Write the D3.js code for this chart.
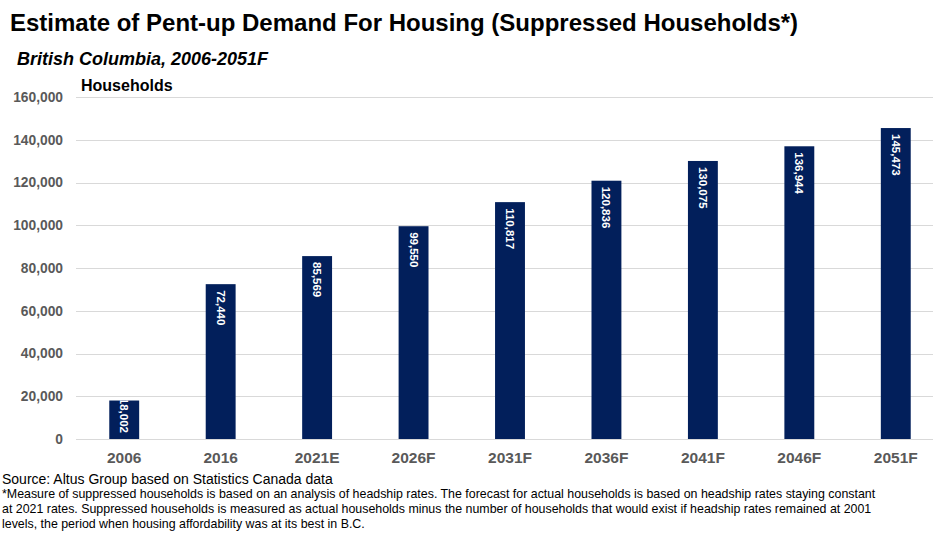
<!DOCTYPE html>
<html>
<head>
<meta charset="utf-8">
<script src="https://cdn.jsdelivr.net/npm/d3@7"></script>
<style>
  html, body { margin: 0; padding: 0; background: #fff; }
  svg { display: block; }
  text { font-family: Arial, "Liberation Sans", sans-serif; }
</style>
</head>
<body>
<svg id="chart" width="933" height="541"></svg>
<script>
// Suppressed households by year (actual + forecast)
const categories = ["2006", "2016", "2021E", "2026F", "2031F", "2036F", "2041F", "2046F", "2051F"];
const households = [18002, 72440, 85569, 99550, 110817, 120836, 130075, 136944, 145473];
const yTicks = [0, 20000, 40000, 60000, 80000, 100000, 120000, 140000, 160000];

const titleText = "Estimate of Pent-up Demand For Housing (Suppressed Households*)";
const subtitleText = "British Columbia, 2006-2051F";
const axisTitle = "Households";
const sourceText = "Source: Altus Group based on Statistics Canada data";
const noteLines = [
  "*Measure of suppressed households is based on an analysis of headship rates. The forecast for actual households is based on headship rates staying constant",
  "at 2021 rates. Suppressed households is measured as actual households minus the number of households that would exist if headship rates remained at 2001",
  "levels, the period when housing affordability was at its best in B.C."
];

const svg = d3.select("#chart");
const W = 933, H = 541;
const plot = { left: 76, right: 944, top: 97, bottom: 439 };
const barColor = "#021F5B";
const fmt = d3.format(",");

const x = d3.scaleBand().domain(categories).range([plot.left, plot.right]).paddingInner(0.69).paddingOuter(0.345);
const y = d3.scaleLinear().domain([0, 160000]).range([plot.bottom, plot.top]);

// Gridlines
svg.append("g").selectAll("line").data(yTicks).join("line")
  .attr("x1", plot.left).attr("x2", W)
  .attr("y1", d => Math.round(y(d)) + 0.5).attr("y2", d => Math.round(y(d)) + 0.5)
  .attr("stroke", "#d9d9d9").attr("stroke-width", 1);

// Y axis labels
const yAxis = d3.axisLeft(y).tickValues(yTicks).tickFormat(fmt).tickSize(0).tickPadding(0);
const gy = svg.append("g").attr("transform", `translate(${63},0)`).call(yAxis);
gy.select(".domain").remove();
gy.selectAll("text")
  .attr("fill", "#595959").style("font-size", "13.8px").style("font-weight", "bold")
  .style("font-family", "Arial, 'Liberation Sans', sans-serif");

// X axis labels
const xAxis = d3.axisBottom(x).tickSize(0).tickPadding(0);
const gx = svg.append("g").attr("transform", `translate(0,${plot.bottom + 13})`).call(xAxis);
gx.select(".domain").remove();
gx.selectAll("text")
  .attr("fill", "#595959").style("font-size", "15.5px").style("font-weight", "bold")
  .style("font-family", "Arial, 'Liberation Sans', sans-serif");

// Bars
const defs = svg.append("defs");
const rows = categories.map((c, i) => ({ c, v: households[i], i }));

rows.forEach(d => {
  defs.append("clipPath").attr("id", "clip" + d.i)
    .append("rect")
    .attr("x", x(d.c)).attr("y", y(d.v))
    .attr("width", x.bandwidth()).attr("height", y(0) - y(d.v));
});

const bars = svg.append("g").selectAll("g").data(rows).join("g");

bars.append("rect")
  .attr("x", d => x(d.c)).attr("y", d => y(d.v))
  .attr("width", x.bandwidth()).attr("height", d => y(0) - y(d.v))
  .attr("fill", barColor);

// Value labels, rotated to read downward, placed at the top of each bar and kept inside it
const pad = 6;
bars.append("g")
  .attr("clip-path", d => `url(#clip${d.i})`)
  .append("text")
  .text(d => fmt(d.v))
  .attr("fill", "#fff").style("font-size", "11.5px").style("font-weight", "bold")
  .attr("dominant-baseline", "central")
  .each(function(d) {
    const len = this.getComputedTextLength();
    const top = y(d.v), bottom = y(0);
    let start = top + pad;
    if (bottom - top < len + 2 * pad) start = bottom - pad - len;
    const cx = x(d.c) + x.bandwidth() / 2;
    d3.select(this).attr("transform", `translate(${cx},${start}) rotate(90)`);
  });

// Titles
svg.append("text").attr("x", 10).attr("y", 31).text(titleText)
  .style("font-size", "24px").style("font-weight", "bold").attr("fill", "#000");
svg.append("text").attr("x", 17).attr("y", 65).text(subtitleText)
  .style("font-size", "18px").style("font-weight", "bold").style("font-style", "italic").attr("fill", "#000");
svg.append("text").attr("x", 81).attr("y", 91).text(axisTitle)
  .style("font-size", "16px").style("font-weight", "bold").attr("fill", "#000");

// Footer
svg.append("text").attr("x", 2).attr("y", 484).text(sourceText)
  .style("font-size", "14px").attr("fill", "#000");
svg.append("g").selectAll("text").data(noteLines).join("text")
  .attr("x", 2).attr("y", (d, i) => 498 + i * 15).text(d => d)
  .style("font-size", "12.4px").attr("fill", "#000");
</script>
</body>
</html>
